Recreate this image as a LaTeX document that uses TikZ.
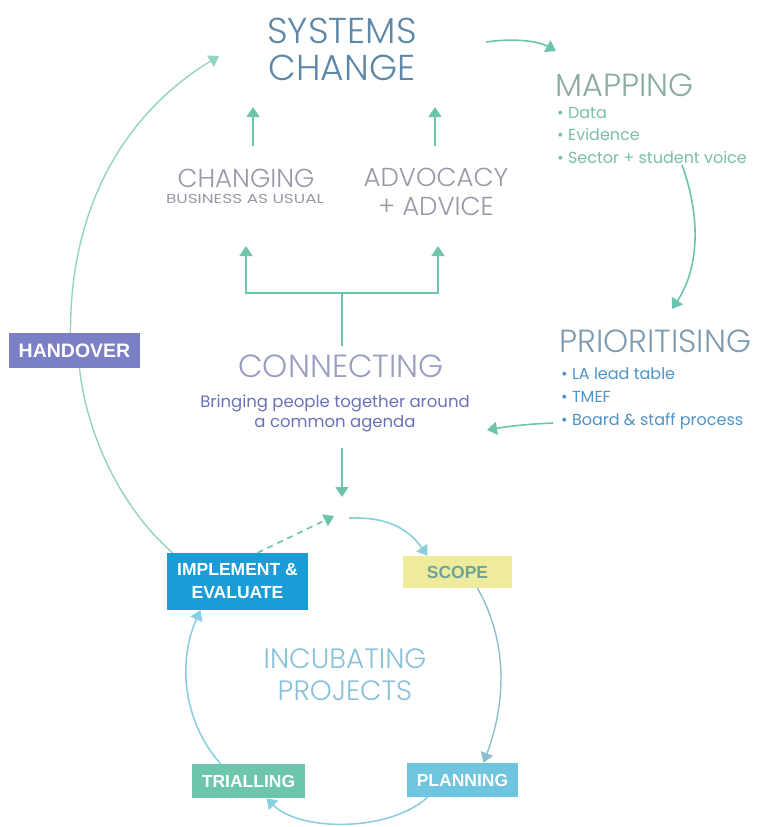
\documentclass[tikz,border=0pt]{standalone}
\usepackage{fontspec}
\setmainfont{Poppins}
\newfontfamily\headfont{Poppins}[UprightFont=* Light]
\newfontfamily\boxfont{Liberation Sans}
\usetikzlibrary{arrows.meta}

\definecolor{flow}{HTML}{6CC4AE}
\definecolor{flowlight}{HTML}{92D3C4}
\definecolor{cyc}{HTML}{8DCFE2}
\definecolor{sysc}{HTML}{5F88A8}
\definecolor{mapc}{HTML}{8CAAA4}
\definecolor{mapb}{HTML}{78BEAB}
\definecolor{prioc}{HTML}{7E9BB2}
\definecolor{priob}{HTML}{4F92C4}
\definecolor{greyc}{HTML}{9898A8}
\definecolor{connc}{HTML}{9A9FC2}
\definecolor{conns}{HTML}{6A72B6}
\definecolor{incc}{HTML}{88C1D9}
\definecolor{handc}{HTML}{7B80C6}
\definecolor{implc}{HTML}{1A9DD6}
\definecolor{scopec}{HTML}{EEEC9C}
\definecolor{scopet}{HTML}{6FA39A}
\definecolor{planc}{HTML}{6FC4DE}
\definecolor{trialc}{HTML}{6EC5AE}

\tikzset{
  tip/.style={-{Triangle[width=13pt,length=10pt]}},
  flowarrow/.style={draw=flow, line width=1.6pt, tip},
  cycarrow/.style={draw=cyc, line width=1.6pt, tip},
  heading/.style={inner sep=0pt, align=center},
  bullets/.style={inner sep=0pt, align=left, anchor=north west},
  stagebox/.style={draw=none, inner sep=0pt, text=white, align=center,
    font=\boxfont\bfseries\fontsize{17.5}{23}\selectfont},
}

\begin{document}
\begin{tikzpicture}[x=1pt,y=-1pt]
\useasboundingbox (0,0) rectangle (768,827);

% headings
\node[heading, text=sysc, font=\headfont\fontsize{36}{37}\selectfont] (sys) at (342,49) {SYSTEMS\\CHANGE};
\node[heading, anchor=west, text=mapc, font=\headfont\fontsize{32}{34}\selectfont] (map) at (555,85) {MAPPING};
\node[bullets, text=mapb, font=\fontsize{16}{22.5}\selectfont] (mapl) at (557,107) {• Data\\• Evidence\\• Sector + student voice};
\node[heading, anchor=west, text=prioc, font=\headfont\fontsize{32}{34}\selectfont] (prio) at (559,341) {PRIORITISING};
\node[bullets, text=priob, font=\fontsize{16}{23}\selectfont] (priol) at (561,367) {• LA lead table\\• TMEF\\• Board \& staff process};

\node[heading, text=greyc, font=\headfont\fontsize{26}{28}\selectfont] (chg) at (246,178) {CHANGING};
\node[heading, text=greyc, font=\fontsize{13}{15}\selectfont] (bau) at (245,199) {\scalebox{1.3}[1]{BUSINESS AS USUAL}};
\node[heading, text=greyc, font=\headfont\fontsize{26}{29}\selectfont] (adv) at (436,192) {ADVOCACY\\+ ADVICE};

\node[heading, text=connc, font=\headfont\fontsize{32}{34}\selectfont] (conn) at (341,366) {CONNECTING};
\node[heading, text=conns, font=\fontsize{16.5}{20}\selectfont] (connsub) at (335,413) {Bringing people together around\\a common agenda};

\node[heading, text=incc, font=\headfont\fontsize{28}{32}\selectfont] (inc) at (345,675) {INCUBATING\\PROJECTS};

% stage boxes
\node[stagebox, fill=handc, minimum width=131pt, minimum height=35pt, font=\boxfont\bfseries\fontsize{19.5}{23}\selectfont] (hand) at (74.5,350.5) {HANDOVER};
\node[stagebox, fill=implc, minimum width=141pt, minimum height=57pt] (impl) at (237.5,581.5) {IMPLEMENT \&\\EVALUATE};
\node[stagebox, fill=scopec, text=scopet, minimum width=109pt, minimum height=32pt] (scope) at (457.5,572) {SCOPE};
\node[stagebox, fill=planc, minimum width=111pt, minimum height=34pt] (plan) at (462.5,780) {PLANNING};
\node[stagebox, fill=trialc, minimum width=113pt, minimum height=34pt] (trial) at (248.5,781) {TRIALLING};

% free ends of connectors
\coordinate (sysout) at (486,42);
\coordinate (mapin) at (556,51);
\coordinate (mapout) at (682,165);
\coordinate (prioin) at (672,309);
\coordinate (prioout) at (553,423);
\coordinate (connin) at (487,430);
\coordinate (stem) at (342,346);
\coordinate (bar) at (342,293);
\coordinate (chgin) at (246,246);
\coordinate (advin) at (438,246);
\coordinate (chgout) at (253,146);
\coordinate (chgtip) at (253,107);
\coordinate (advout) at (435,146);
\coordinate (advtip) at (435,107);
\coordinate (connout) at (342,448);
\coordinate (hub) at (342,497);
\coordinate (hubtip) at (334,516);
\coordinate (hubout) at (349,518);
\coordinate (systip) at (219,56);

% flow through the upper cycle
\draw[flowarrow] (sysout) .. controls (515,38) and (538,41) .. (mapin);
\draw[flowarrow] (mapout) .. controls (702,220) and (698,270) .. (prioin);
\draw[flowarrow] (prioout) .. controls (530,424) and (510,426) .. (connin);
\draw[draw=flow, line width=1.6pt] (stem) -- (bar);
\draw[flowarrow] (bar) -| (chgin);
\draw[flowarrow] (bar) -| (advin);
\draw[flowarrow] (chgout) -- (chgtip);
\draw[flowarrow] (advout) -- (advtip);
\draw[flowarrow] (connout) -- (hub);

% incubation cycle
\draw[flowarrow, dashed, dash pattern=on 6pt off 5pt] ([xshift=20pt]impl.north) -- (hubtip);
\draw[draw=cyc!90!flow, line width=1.6pt, tip] (hubout) .. controls (380,517) and (405,524) .. ([xshift=-30pt]scope.north);
\draw[draw=cyc!80!gray, line width=1.4pt, tip] ([xshift=20pt]scope.south) .. controls (507,640) and (507,700) .. ([xshift=21pt]plan.north);
\draw[cycarrow] ([xshift=-35pt]plan.south) .. controls (390,832) and (300,832) .. ([xshift=18pt]trial.south);
\draw[cycarrow] ([xshift=-28pt]trial.north) .. controls (182,720) and (178,660) .. ([xshift=-37pt]impl.south);

% handover path back to systems change
\draw[draw=flowlight, line width=1.4pt] ([xshift=-65pt]impl.north) .. controls (118,505) and (86,430) .. ([xshift=5pt]hand.south);
\draw[draw=flowlight, line width=1.4pt, tip] ([xshift=-4pt]hand.north) .. controls (70,200) and (130,110) .. (systip);
\end{tikzpicture}
\end{document}
